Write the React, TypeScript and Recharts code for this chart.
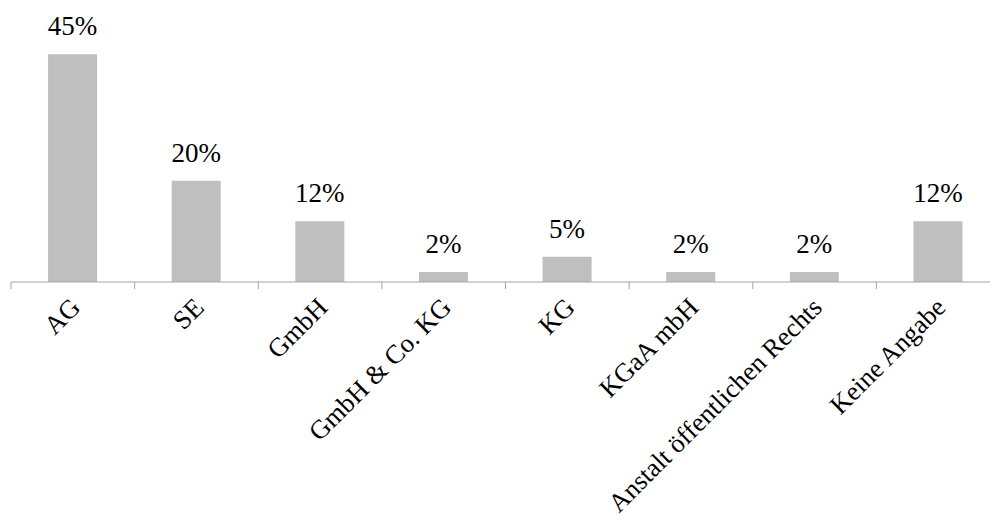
import { BarChart, Bar, XAxis, YAxis, LabelList } from "recharts";

const categories = [
  "AG",
  "SE",
  "GmbH",
  "GmbH & Co. KG",
  "KG",
  "KGaA mbH",
  "Anstalt öffentlichen Rechts",
  "Keine Angabe",
];
const shares = [45, 20, 12, 2, 5, 2, 2, 12];

const data = categories.map((name, i) => ({ name, value: shares[i] }));

const FONT = "'Liberation Serif', 'Times New Roman', serif";
const AXIS_GRAY = "#a6a6a6";

// tick marks sit on the category boundaries, labels are rotated -45deg
const CategoryTick = (props: any) => {
  const { x, y, payload } = props;
  const half = payload?.offset ?? 61.8;
  const ax = x + 9;
  const ay = y + 27;
  return (
    <g>
      <line x1={x - half} y1={y} x2={x - half} y2={y + 7} stroke={AXIS_GRAY} />
      <text
        x={ax}
        y={ay}
        transform={`rotate(-45 ${ax} ${ay})`}
        textAnchor="end"
        fontFamily={FONT}
        fontSize={26.5}
        fill="#000"
      >
        {payload.value}
      </text>
    </g>
  );
};

// value label above each bar
const ValueLabel = (props: any) => {
  const { x, y, width, value } = props;
  return (
    <text
      x={x + width / 2}
      y={y - 19}
      textAnchor="middle"
      fontFamily={FONT}
      fontSize={27}
      fill="#000"
    >
      {`${value}%`}
    </text>
  );
};

export default function App() {
  return (
    <div
      style={{
        position: "absolute",
        left: 0,
        top: 0,
        width: 990,
        height: 523,
        overflow: "hidden",
        background: "#fff",
      }}
    >
      <BarChart
        width={1000}
        height={523}
        data={data}
        margin={{ top: 29, right: 0, bottom: 0, left: 11 }}
        barCategoryGap="30%"
      >
        <XAxis
          dataKey="name"
          height={241}
          interval={0}
          tickSize={0}
          tickMargin={0}
          tickLine={false}
          axisLine={{ stroke: AXIS_GRAY }}
          tick={<CategoryTick />}
        />
        <YAxis hide domain={[0, 50]} />
        <Bar dataKey="value" fill="#bfbfbf" isAnimationActive={false}>
          <LabelList dataKey="value" content={<ValueLabel />} />
        </Bar>
      </BarChart>
    </div>
  );
}
